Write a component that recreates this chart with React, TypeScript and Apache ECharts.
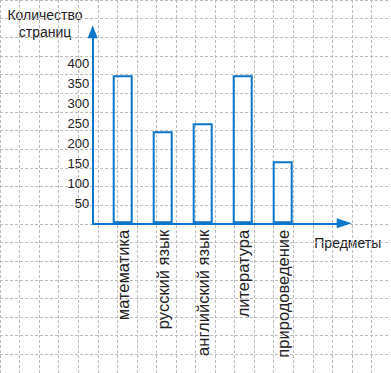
import { useEffect, useRef } from 'react';
import * as echarts from 'echarts';

const categories = ['математика', 'русский язык', 'английский язык', 'литература', 'природоведение'];
const pages = [370, 230, 250, 370, 155];
const yTicks = [50, 100, 150, 200, 250, 300, 350, 400];
const yAxisTitle = 'Количество\nстраниц';
const xAxisTitle = 'Предметы';

const BLUE = '#0b76cc';
const GRID = '#bcbcbc';
const TEXT = '#222';
const FONT = '"Liberation Sans", Arial, sans-serif';

export default function App() {
  const ref = useRef<HTMLDivElement>(null);
  useEffect(() => {
    const chart = echarts.init(ref.current!, null, { renderer: 'svg' });
    const off = {
      axisLine: { show: false },
      axisTick: { show: false },
      axisLabel: { show: false },
      splitLine: { show: false },
    };
    const bgSplit = {
      show: true,
      showMinLine: true,
      showMaxLine: true,
      lineStyle: { color: GRID, width: 1, type: [3, 2] },
    };
    chart.setOption({
      animation: false,
      backgroundColor: '#ffffff',
      grid: [
        { left: 92.7, right: 46.8, top: 31.7, bottom: 149.7 },
        { left: 102.7, width: 200, top: 31.7, bottom: 149.7 },
        { left: -7.3, top: -16.7, width: 400, height: 400 },
      ],
      xAxis: [
        {
          gridIndex: 0,
          type: 'value',
          min: 0,
          max: 1,
          ...off,
          axisLine: {
            show: true,
            lineStyle: { color: BLUE, width: 2 },
            symbol: ['none', 'triangle'],
            symbolSize: [10, 15],
          },
        },
        {
          gridIndex: 1,
          type: 'category',
          data: categories,
          ...off,
          axisLabel: {
            show: true,
            interval: 0,
            rotate: 90,
            margin: 6.5,
            fontSize: 16.5,
            color: TEXT,
            fontFamily: FONT,
          },
        },
        {
          gridIndex: 2,
          type: 'value',
          min: 0,
          max: 400,
          interval: 20,
          ...off,
          splitLine: bgSplit,
        },
      ],
      yAxis: [
        {
          gridIndex: 0,
          type: 'value',
          min: 0,
          max: 479,
          ...off,
          axisLine: {
            show: true,
            lineStyle: { color: BLUE, width: 2 },
            symbol: ['none', 'triangle'],
            symbolSize: [10, 13],
          },
          axisLabel: {
            show: true,
            customValues: yTicks,
            margin: 3.4,
            fontSize: 13,
            color: TEXT,
            fontFamily: FONT,
          },
        },
        {
          gridIndex: 1,
          type: 'value',
          min: 0,
          max: 479,
          ...off,
        },
        {
          gridIndex: 2,
          type: 'value',
          min: 0,
          max: 400,
          interval: 20,
          ...off,
          splitLine: bgSplit,
        },
      ],
      series: [
        {
          type: 'bar',
          xAxisIndex: 1,
          yAxisIndex: 1,
          data: pages,
          barWidth: 20,
          itemStyle: {
            color: 'rgba(255,255,255,0)',
            borderColor: BLUE,
            borderWidth: 2,
          },
        },
      ],
      graphic: [
        {
          type: 'text',
          x: 45,
          y: 6.5,
          style: {
            text: yAxisTitle,
            textAlign: 'center',
            textVerticalAlign: 'top',
            lineHeight: 17.3,
            fontSize: 14,
            fontFamily: FONT,
            fill: TEXT,
          },
        },
        {
          type: 'text',
          x: 314.3,
          y: 243,
          style: {
            text: xAxisTitle,
            textAlign: 'left',
            textVerticalAlign: 'middle',
            fontSize: 14,
            fontFamily: FONT,
            fill: TEXT,
          },
        },
      ],
    });
    return () => chart.dispose();
  }, []);
  return (
    <div
      ref={ref}
      style={{ position: 'absolute', left: 0, top: 0, width: 391, height: 373 }}
    />
  );
}
